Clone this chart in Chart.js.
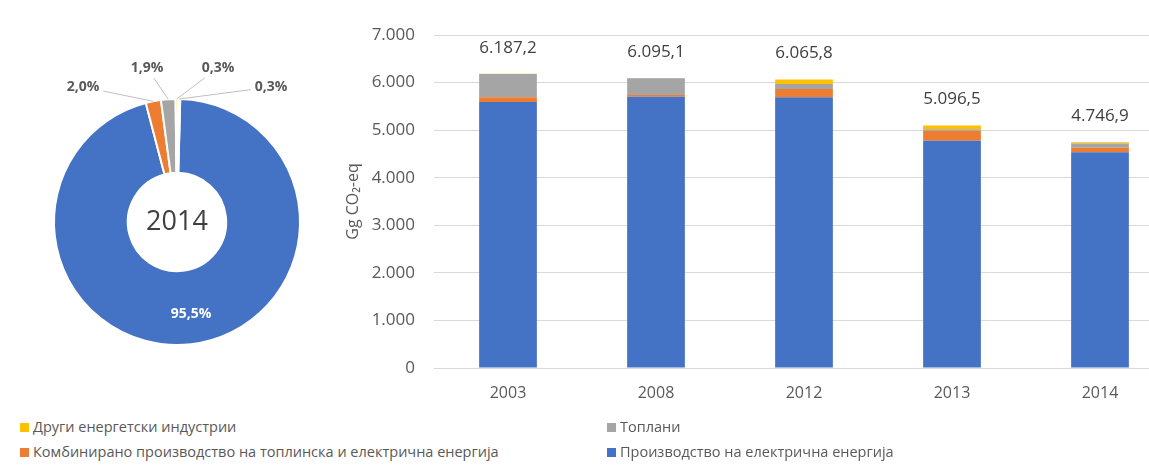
<!DOCTYPE html>
<html lang="mk">
<head>
  <meta charset="UTF-8">
  <title>Емисии од енергетски индустрии</title>
  <style>
    body {
      margin: 0;
      width: 1149px;
      height: 465px;
      overflow: hidden;
      position: relative;
      background: #fff;
      font-family: "Open Sans", sans-serif;
    }
    #krug { position: absolute; left: 0; top: 0; }
    #stolbovi { position: absolute; left: 340px; top: 0; }
    .legenda {
      position: absolute;
      font-size: 14.5px;
      color: #595959;
      white-space: nowrap;
      line-height: 20px;
    }
    .legenda span {
      display: inline-block;
      width: 9px;
      height: 9px;
      margin-right: 4px;
      vertical-align: 0px;
    }
  </style>
</head>
<body>
  <canvas id="krug" width="350" height="400"></canvas>
  <canvas id="stolbovi" width="840" height="420"></canvas>
  <div id="legenda"></div>

  <script src="https://cdn.jsdelivr.net/npm/chart.js"></script>
  <script>
    // години
    const godini = ['2003', '2008', '2012', '2013', '2014'];

    // Gg CO2-eq по категорија
    const elektricna = [5590, 5700, 5690, 4775, 4533];
    const kombinirano = [100, 40, 175, 210, 95];
    const toplani = [490, 350, 105, 35, 90];
    const drugi = [7.2, 5.1, 95.8, 76.5, 28.9];

    // удели за 2014 (%)
    const udeliEtiketi = ['Производство на електрична енергија', 'Комбинирано производство', 'Топлани', 'Други енергетски индустрии', 'Останато'];
    const udeli = [95.5, 2.0, 1.9, 0.3, 0.3];

    const yTicks = [0, 1000, 2000, 3000, 4000, 5000, 6000, 7000];

    const PLAVA = '#4472C4';
    const PORTOKALOVA = '#ED7D31';
    const SIVA = '#A5A5A5';
    const ZOLTA = '#FFC000';

    // 6187.2 -> "6.187,2"
    function formatBroj(v, dec) {
      const delovi = v.toFixed(dec).split('.');
      const cel = delovi[0].replace(/\B(?=(\d{3})+(?!\d))/g, '.');
      return delovi.length > 1 ? cel + ',' + delovi[1] : cel;
    }

    // ---------- KRUG (doughnut) ----------
    // позиции на етикетите во однос на центарот
    const etiketiPoz = [
      { dx: 14, dy: 92, boja: '#fff', linija: false },
      { dx: -94, dy: -135, boja: '#595959', linija: true },
      { dx: -30, dy: -154, boja: '#595959', linija: true },
      { dx: 41, dy: -154, boja: '#595959', linija: true },
      { dx: 94, dy: -135, boja: '#595959', linija: true }
    ];

    const krugEtiketi = {
      id: 'krugEtiketi',
      afterDatasetsDraw(chart) {
        const ctx = chart.ctx;
        const meta = chart.getDatasetMeta(0);
        ctx.save();
        ctx.font = 'bold 14px "Open Sans"';
        ctx.textAlign = 'center';
        ctx.textBaseline = 'middle';
        meta.data.forEach((arc, i) => {
          const p = etiketiPoz[i];
          const tekst = udeli[i].toFixed(1).replace('.', ',') + '%';
          const lx = arc.x + p.dx;
          const ly = arc.y + p.dy;
          if (p.linija) {
            const sredina = (arc.startAngle + arc.endAngle) / 2;
            const tx = arc.x + Math.cos(sredina) * arc.outerRadius;
            const ty = arc.y + Math.sin(sredina) * arc.outerRadius;
            // почеток на линијата на работ од етикетата
            const w = ctx.measureText(tekst).width / 2 + 4;
            const h = 10;
            const ddx = tx - lx, ddy = ty - ly;
            const s = Math.min(Math.abs(w / (ddx || 1e-6)), Math.abs(h / (ddy || 1e-6)));
            ctx.strokeStyle = '#bfbfbf';
            ctx.lineWidth = 1;
            ctx.beginPath();
            ctx.moveTo(lx + ddx * s, ly + ddy * s);
            ctx.lineTo(tx, ty);
            ctx.stroke();
          }
          ctx.fillStyle = p.boja;
          ctx.fillText(tekst, lx, ly);
        });
        // година во средината
        ctx.font = '27px "Open Sans"';
        ctx.fillStyle = '#404040';
        ctx.fillText(godini[godini.length - 1], meta.data[0].x, meta.data[0].y);
        ctx.restore();
      }
    };

    new Chart(document.getElementById('krug'), {
      type: 'doughnut',
      data: {
        labels: udeliEtiketi,
        datasets: [{
          data: udeli,
          backgroundColor: [PLAVA, PORTOKALOVA, SIVA, ZOLTA, '#eef0f4'],
          borderColor: '#fff',
          borderWidth: 2
        }]
      },
      options: {
        responsive: false,
        animation: false,
        rotation: 1.5,
        cutout: '40%',
        layout: { padding: { left: 53, right: 49, top: 98, bottom: 54 } },
        plugins: { legend: { display: false }, tooltip: { enabled: false } }
      },
      plugins: [krugEtiketi]
    });

    // ---------- STOLBOVI (stacked bar) ----------
    const vkupnoEtiketi = {
      id: 'vkupnoEtiketi',
      afterDatasetsDraw(chart) {
        const ctx = chart.ctx;
        const poslednaSerija = chart.getDatasetMeta(chart.data.datasets.length - 1);
        ctx.save();
        ctx.font = '17px "Open Sans"';
        ctx.fillStyle = '#404040';
        ctx.textAlign = 'center';
        ctx.textBaseline = 'middle';
        godini.forEach((g, i) => {
          const vkupno = elektricna[i] + kombinirano[i] + toplani[i] + drugi[i];
          const bar = poslednaSerija.data[i];
          ctx.fillText(formatBroj(vkupno, 1), bar.x, bar.y - 26);
        });
        ctx.restore();
      }
    };

    const serii = [
      { label: 'Производство на електрична енергија', data: elektricna, backgroundColor: PLAVA },
      { label: 'Комбинирано производство на топлинска и електрична енергија', data: kombinirano, backgroundColor: PORTOKALOVA },
      { label: 'Топлани', data: toplani, backgroundColor: SIVA },
      { label: 'Други енергетски индустрии', data: drugi, backgroundColor: ZOLTA }
    ];

    new Chart(document.getElementById('stolbovi'), {
      type: 'bar',
      data: {
        labels: godini,
        datasets: serii.map(s => Object.assign({ barPercentage: 0.39, categoryPercentage: 1 }, s))
      },
      options: {
        responsive: false,
        animation: false,
        layout: { padding: { left: 0, right: 6, top: 35, bottom: 16 } },
        plugins: { legend: { display: false }, tooltip: { enabled: false } },
        scales: {
          x: {
            stacked: true,
            afterFit: s => { s.height = 36; },
            grid: { display: false },
            border: { display: false },
            ticks: { color: '#595959', font: { family: 'Open Sans', size: 16 }, padding: 8, maxRotation: 0 }
          },
          y: {
            stacked: true,
            min: 0,
            max: 7000,
            afterBuildTicks: s => { s.ticks = yTicks.map(v => ({ value: v })); },
            afterFit: s => { s.width = 94; },
            grid: { color: '#d9d9d9', drawTicks: false },
            border: { display: false },
            ticks: {
              color: '#595959',
              font: { family: 'Open Sans', size: 17 },
              padding: 19,
              callback: v => formatBroj(v, 0)
            },
            title: {
              display: true,
              text: 'Gg CO₂-eq',
              color: '#595959',
              font: { family: 'Open Sans', size: 16 }
            }
          }
        }
      },
      plugins: [vkupnoEtiketi]
    });

    // ---------- LEGENDA ----------
    const legendaRaspored = [
      { serija: 3, left: 20, top: 417 },
      { serija: 2, left: 607, top: 417 },
      { serija: 1, left: 20, top: 442 },
      { serija: 0, left: 607, top: 442 }
    ];
    const legendaDiv = document.getElementById('legenda');
    legendaRaspored.forEach(r => {
      const s = serii[r.serija];
      const el = document.createElement('div');
      el.className = 'legenda';
      el.style.left = r.left + 'px';
      el.style.top = r.top + 'px';
      el.innerHTML = '<span style="background:' + s.backgroundColor + '"></span>' + s.label;
      legendaDiv.appendChild(el);
    });
  </script>
</body>
</html>
